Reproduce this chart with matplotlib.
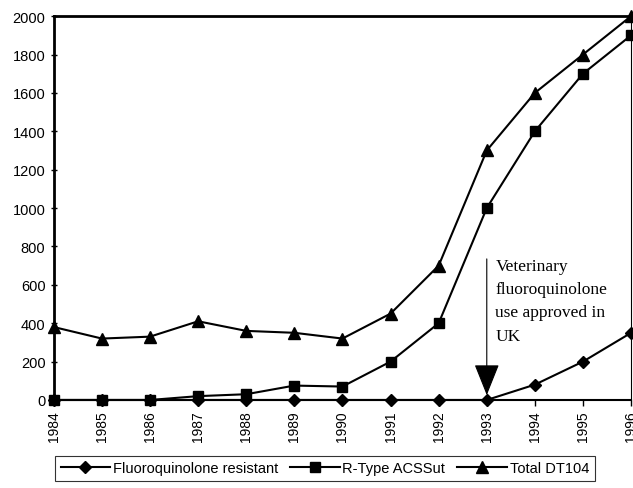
import matplotlib
matplotlib.use("Agg")
import matplotlib.pyplot as plt

years = list(range(1984, 1997))
fluoro_resistant = [0, 0, 0, 0, 0, 0, 0, 0, 0, 0, 80, 200, 350]
r_type_acssut = [0, 0, 0, 20, 30, 75, 70, 200, 400, 1000, 1400, 1700, 1900]
total_dt104 = [380, 320, 330, 410, 360, 350, 320, 450, 700, 1300, 1600, 1800, 2000]

plt.rcParams['font.family'] = ['Liberation Sans', 'DejaVu Sans']

fig = plt.figure(figsize=(6.33, 4.89), dpi=100)
ax = fig.add_axes([0.085, 0.18, 0.912, 0.785])

ax.plot(years, fluoro_resistant, color='black', lw=1.5, marker='D', ms=6,
        label='Fluoroquinolone resistant', clip_on=False, zorder=3)
ax.plot(years, r_type_acssut, color='black', lw=1.5, marker='s', ms=7.5,
        label='R-Type ACSSut', clip_on=False, zorder=3)
ax.plot(years, total_dt104, color='black', lw=1.5, marker='^', ms=8.5,
        label='Total DT104', clip_on=False, zorder=3)

ax.set_xlim(1984, 1996)
ax.set_ylim(0, 2000)
ax.set_xticks(years)
ax.set_xticklabels([str(y) for y in years], rotation=90, fontsize=10)
ax.set_yticks(range(0, 2001, 200))
ax.tick_params(axis='y', labelsize=10.5, direction='inout', length=5, width=1)
ax.tick_params(axis='x', direction='out', length=4, width=1)

for side in ['left', 'top']:
    ax.spines[side].set_linewidth(2)
ax.spines['right'].set_linewidth(0.8)
ax.spines['bottom'].set_linewidth(1.5)

# approval arrow
ax.annotate('', xy=(1993, 25), xytext=(1993, 735),
            arrowprops=dict(arrowstyle='-|>,head_length=2.0,head_width=0.8',
                            color='black', lw=0.8, shrinkA=0, shrinkB=0))
ax.text(1993.18, 740,
        'Veterinary\nfluoroquinolone\nuse approved in\nUK',
        family=['Liberation Serif', 'DejaVu Serif'], fontsize=12.5,
        va='top', ha='left', linespacing=1.6)

leg = fig.legend(loc='center', bbox_to_anchor=(0.513, 0.04), ncol=3,
                 fontsize=10.5, handlelength=3.4, frameon=True, fancybox=False,
                 edgecolor='black', borderpad=0.4, columnspacing=0.8,
                 handletextpad=0.2)
leg.get_frame().set_linewidth(0.8)

fig.savefig('out.png', dpi=100)
